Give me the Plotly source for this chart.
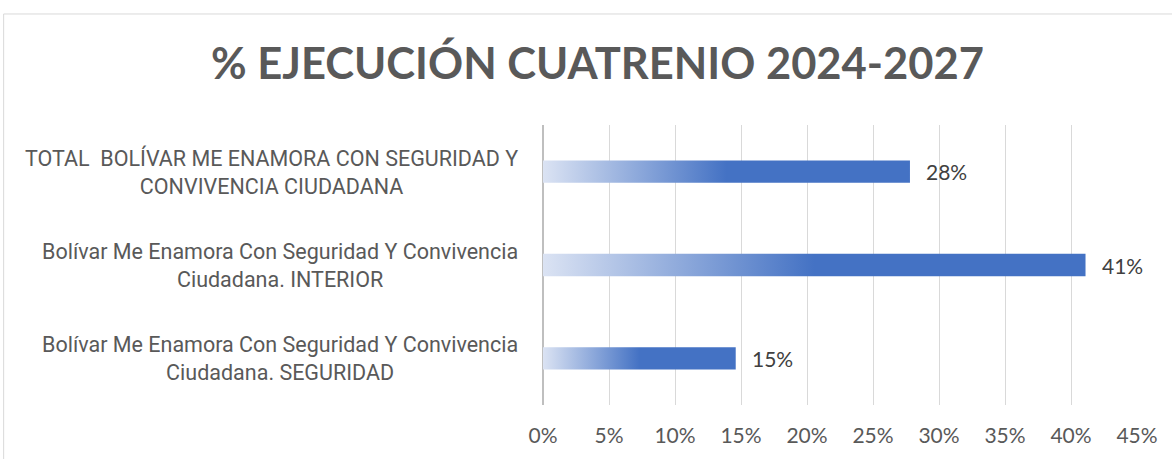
import plotly.graph_objects as go

# Data (top to bottom as in the reference)
categories = [
    "TOTAL  BOLÍVAR ME ENAMORA CON SEGURIDAD Y<br>CONVIVENCIA CIUDADANA",
    "Bolívar Me Enamora Con Seguridad Y Convivencia<br>Ciudadana. INTERIOR",
    "Bolívar Me Enamora Con Seguridad Y Convivencia<br>Ciudadana. SEGURIDAD",
]
values = [0.278, 0.411, 0.146]
title_text = "% EJECUCIÓN CUATRENIO 2024-2027"

FONT = "Lato"
LABEL_FONT = "Roboto"
BAR_HALF = 0.12
GRAD_SCALE = [[0, "#dbe3f3"], [0.5, "#4472c4"], [1, "#4472c4"]]

fig = go.Figure()
n = len(categories)
for i, (cat, v) in enumerate(zip(categories, values)):
    pos = n - 1 - i
    fig.add_trace(go.Scatter(
        x=[0, v, v, 0, 0],
        y=[pos - BAR_HALF, pos - BAR_HALF, pos + BAR_HALF, pos + BAR_HALF, pos - BAR_HALF],
        mode="lines",
        line=dict(width=0),
        fill="toself",
        fillgradient=dict(type="horizontal", colorscale=GRAD_SCALE),
        showlegend=False,
        hoverinfo="skip",
    ))
    fig.add_annotation(
        x=v, y=pos, xref="x", yref="y", text=f"{v:.0%}", showarrow=False,
        xanchor="left", xshift=14, font=dict(family=FONT, size=21, color="#404040"),
    )
    fig.add_annotation(
        x=-0.038, y=pos, xref="paper", yref="y", text=cat, showarrow=False,
        xanchor="right", align="center", font=dict(family=LABEL_FONT, size=21.5, color="#595959"),
    )

# chart border (light gray frame)
fig.add_shape(type="rect", xref="paper", yref="paper", x0=-0.908, x1=1.2, y0=-0.4, y1=1.3965,
              line=dict(color="#d9d9d9", width=1), fillcolor="rgba(0,0,0,0)", layer="below")

fig.update_layout(
    width=1172, height=459,
    margin=dict(l=543, r=35, t=125, b=49),
    paper_bgcolor="white", plot_bgcolor="white",
    title=dict(text=f"<b>{title_text}</b>", x=597.5 / 1172, xanchor="center", y=1 - 64 / 459,
               yanchor="middle", font=dict(family=FONT, size=43.5, color="#595959")),
    xaxis=dict(range=[0, 0.45], dtick=0.05, tickformat=".0%", showgrid=True,
               gridcolor="#d9d9d9", gridwidth=1, zeroline=True, zerolinecolor="#bfbfbf",
               zerolinewidth=2, showline=False, ticks="", ticklabelstandoff=16,
               tickfont=dict(family=FONT, size=21, color="#595959"), fixedrange=True),
    yaxis=dict(range=[-0.5, n - 0.5], showticklabels=False, showgrid=False, zeroline=False,
               showline=False, fixedrange=True),
)

fig.write_html("out.html", config={"displayModeBar": False},
               post_script="document.body.style.margin='0';")
